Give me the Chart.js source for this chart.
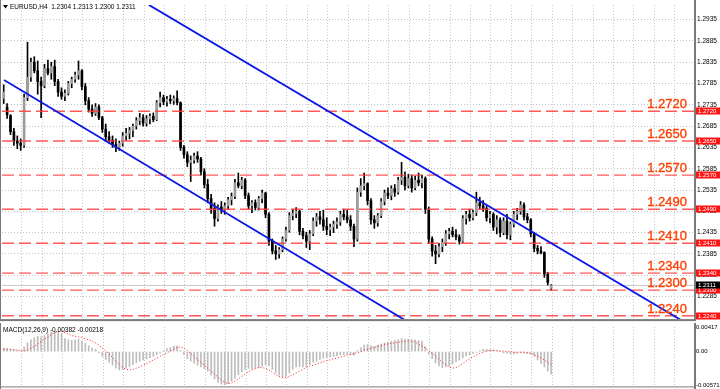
<!DOCTYPE html>
<html>
<head>
<meta charset="utf-8">
<script src="https://cdn.jsdelivr.net/npm/chart.js@4.4.1/dist/chart.umd.min.js"></script>
<style>
  html, body { margin:0; padding:0; background:#fff; }
  #wrap { position:relative; width:720px; height:389px; overflow:hidden; background:#fff; }
  #main { position:absolute; left:0; top:0; }
  #macd { position:absolute; left:0; top:323px; }
</style>
</head>
<body>
<div id="wrap">
  <canvas id="main" width="720" height="324"></canvas>
  <canvas id="macd" width="720" height="66"></canvas>
</div>
<script>
// EURUSD H4 snapshot (one entry per 4h bar)
const openP = [
  1.2750,1.2730,1.2710,1.2672,1.2650,1.2645,1.2640,1.2752,1.2800,1.2835,
  1.2815,1.2790,1.2780,1.2820,1.2810,1.2825,1.2790,1.2765,1.2755,1.2762,
  1.2785,1.2795,1.2805,1.2815,1.2778,1.2745,1.2725,1.2715,1.2730,1.2705,
  1.2678,1.2660,1.2652,1.2642,1.2635,1.2645,1.2662,1.2668,1.2675,1.2685,
  1.2698,1.2705,1.2692,1.2702,1.2708,1.2700,1.2740,1.2752,1.2742,1.2748,
  1.2745,1.2750,1.2740,1.2635,1.2618,1.2600,1.2605,1.2615,1.2608,1.2578,
  1.2548,1.2515,1.2492,1.2468,1.2495,1.2488,1.2498,1.2512,1.2520,1.2552,
  1.2545,1.2558,1.2522,1.2498,1.2505,1.2494,1.2515,1.2528,1.2478,1.2415,
  1.2392,1.2385,1.2395,1.2420,1.2440,1.2475,1.2480,1.2485,1.2438,1.2428,
  1.2415,1.2432,1.2462,1.2472,1.2465,1.2450,1.2442,1.2448,1.2455,1.2460,
  1.2478,1.2472,1.2465,1.2450,1.2420,1.2530,1.2545,1.2550,1.2510,1.2465,
  1.2458,1.2475,1.2508,1.2528,1.2522,1.2538,1.2530,1.2558,1.2565,1.2545,
  1.2562,1.2540,1.2558,1.2552,1.2562,1.2490,1.2420,1.2392,1.2385,1.2402,
  1.2412,1.2432,1.2438,1.2430,1.2425,1.2415,1.2468,1.2478,1.2470,1.2482,
  1.2505,1.2498,1.2492,1.2470,1.2478,1.2448,1.2465,1.2435,1.2462,1.2430,
  1.2455,1.2478,1.2485,1.2500,1.2472,1.2465,1.2432,1.2398,1.2392,1.2388,
  1.2338,1.2304
];
const highP = [
  1.2782,1.2738,1.2712,1.2680,1.2662,1.2655,1.2760,1.2882,1.2845,1.2848,
  1.2838,1.2800,1.2830,1.2840,1.2835,1.2840,1.2795,1.2775,1.2770,1.2790,
  1.2800,1.2812,1.2838,1.2818,1.2785,1.2752,1.2735,1.2738,1.2735,1.2708,
  1.2690,1.2672,1.2662,1.2655,1.2650,1.2670,1.2680,1.2682,1.2690,1.2705,
  1.2715,1.2712,1.2710,1.2714,1.2716,1.2745,1.2765,1.2758,1.2755,1.2758,
  1.2756,1.2768,1.2742,1.2640,1.2625,1.2615,1.2622,1.2625,1.2612,1.2585,
  1.2560,1.2525,1.2505,1.2500,1.2508,1.2505,1.2518,1.2528,1.2560,1.2575,
  1.2565,1.2562,1.2528,1.2510,1.2512,1.2520,1.2535,1.2530,1.2482,1.2420,
  1.2405,1.2400,1.2425,1.2448,1.2482,1.2490,1.2494,1.2488,1.2445,1.2436,
  1.2440,1.2470,1.2480,1.2485,1.2488,1.2470,1.2455,1.2462,1.2470,1.2485,
  1.2490,1.2488,1.2475,1.2455,1.2540,1.2562,1.2575,1.2552,1.2515,1.2475,
  1.2480,1.2515,1.2535,1.2540,1.2545,1.2548,1.2565,1.2600,1.2578,1.2572,
  1.2570,1.2568,1.2575,1.2570,1.2566,1.2495,1.2425,1.2405,1.2410,1.2420,
  1.2440,1.2445,1.2448,1.2442,1.2430,1.2475,1.2485,1.2490,1.2488,1.2530,
  1.2518,1.2510,1.2498,1.2485,1.2482,1.2475,1.2470,1.2470,1.2478,1.2460,
  1.2485,1.2492,1.2508,1.2505,1.2480,1.2468,1.2436,1.2405,1.2402,1.2390,
  1.2342,1.2313
];
const lowP = [
  1.2738,1.2703,1.2665,1.2640,1.2632,1.2628,1.2635,1.2745,1.2790,1.2810,
  1.2760,1.2705,1.2775,1.2805,1.2795,1.2780,1.2755,1.2748,1.2745,1.2758,
  1.2775,1.2788,1.2795,1.2770,1.2735,1.2718,1.2708,1.2710,1.2700,1.2670,
  1.2650,1.2645,1.2635,1.2625,1.2628,1.2638,1.2652,1.2655,1.2660,1.2678,
  1.2688,1.2685,1.2685,1.2690,1.2695,1.2698,1.2730,1.2735,1.2732,1.2738,
  1.2736,1.2735,1.2628,1.2610,1.2590,1.2555,1.2598,1.2600,1.2570,1.2540,
  1.2505,1.2480,1.2450,1.2462,1.2480,1.2478,1.2490,1.2500,1.2515,1.2540,
  1.2538,1.2515,1.2490,1.2482,1.2488,1.2488,1.2505,1.2470,1.2405,1.2385,
  1.2372,1.2375,1.2390,1.2415,1.2436,1.2465,1.2470,1.2430,1.2420,1.2400,
  1.2395,1.2428,1.2450,1.2455,1.2440,1.2430,1.2428,1.2435,1.2445,1.2452,
  1.2465,1.2458,1.2440,1.2402,1.2415,1.2520,1.2535,1.2500,1.2455,1.2445,
  1.2450,1.2470,1.2500,1.2515,1.2512,1.2520,1.2525,1.2548,1.2535,1.2540,
  1.2530,1.2535,1.2545,1.2540,1.2480,1.2410,1.2380,1.2362,1.2378,1.2390,
  1.2405,1.2420,1.2425,1.2418,1.2408,1.2412,1.2455,1.2462,1.2465,1.2475,
  1.2490,1.2485,1.2462,1.2458,1.2440,1.2432,1.2425,1.2430,1.2420,1.2418,
  1.2448,1.2465,1.2478,1.2465,1.2458,1.2425,1.2390,1.2385,1.2385,1.2330,
  1.2312,1.2300
];
const closeP = [
  1.2765,1.2712,1.2672,1.2650,1.2645,1.2640,1.2752,1.2800,1.2835,1.2815,
  1.2790,1.2780,1.2820,1.2810,1.2825,1.2790,1.2765,1.2755,1.2762,1.2785,
  1.2795,1.2805,1.2815,1.2778,1.2745,1.2725,1.2715,1.2730,1.2705,1.2678,
  1.2660,1.2652,1.2642,1.2635,1.2645,1.2662,1.2668,1.2675,1.2685,1.2698,
  1.2705,1.2692,1.2702,1.2708,1.2700,1.2740,1.2752,1.2742,1.2748,1.2745,
  1.2750,1.2740,1.2635,1.2618,1.2600,1.2605,1.2615,1.2608,1.2578,1.2548,
  1.2515,1.2492,1.2468,1.2495,1.2488,1.2498,1.2512,1.2520,1.2552,1.2545,
  1.2558,1.2522,1.2498,1.2505,1.2494,1.2515,1.2528,1.2478,1.2415,1.2392,
  1.2385,1.2395,1.2420,1.2440,1.2475,1.2480,1.2485,1.2438,1.2428,1.2415,
  1.2432,1.2462,1.2472,1.2465,1.2450,1.2442,1.2448,1.2455,1.2460,1.2478,
  1.2472,1.2465,1.2450,1.2420,1.2530,1.2545,1.2550,1.2510,1.2465,1.2458,
  1.2475,1.2508,1.2528,1.2522,1.2538,1.2530,1.2558,1.2565,1.2545,1.2562,
  1.2540,1.2558,1.2552,1.2562,1.2490,1.2420,1.2392,1.2385,1.2402,1.2412,
  1.2432,1.2438,1.2430,1.2425,1.2415,1.2468,1.2478,1.2470,1.2482,1.2505,
  1.2498,1.2492,1.2470,1.2478,1.2448,1.2465,1.2435,1.2462,1.2430,1.2455,
  1.2478,1.2485,1.2500,1.2472,1.2465,1.2432,1.2398,1.2392,1.2388,1.2338,
  1.2318,1.2311
];
// MACD(12,26,9): main (histogram) and signal (dotted)
const macdMain = [
  0.0006,0.0005,0.0004,0.0003,0.0002,0.0002,0.0008,0.0015,0.0020,0.0024,
  0.0026,0.0025,0.0027,0.0030,0.0033,0.0035,0.0034,0.0030,0.0022,0.0020,
  0.0019,0.0020,0.0021,0.0018,0.0014,0.0010,0.0006,0.0004,-0.0002,-0.0008,
  -0.0013,-0.0018,-0.0023,-0.0028,-0.0031,-0.0030,-0.0028,-0.0025,-0.0022,-0.0019,
  -0.0016,-0.0014,-0.0012,-0.0010,-0.0008,-0.0005,-0.0002,0.0002,0.0005,0.0007,
  0.0009,0.0010,0.0002,-0.0005,-0.0012,-0.0016,-0.0020,-0.0023,-0.0026,-0.0029,
  -0.0033,-0.0040,-0.0046,-0.0052,-0.0055,-0.0056,-0.0054,-0.0050,-0.0045,-0.0039,
  -0.0034,-0.0030,-0.0028,-0.0029,-0.0028,-0.0027,-0.0025,-0.0022,-0.0024,-0.0030,
  -0.0036,-0.0040,-0.0043,-0.0042,-0.0036,-0.0030,-0.0026,-0.0025,-0.0026,-0.0025,
  -0.0022,-0.0018,-0.0016,-0.0013,-0.0011,-0.0010,-0.0009,-0.0008,-0.0007,-0.0005,
  -0.0005,-0.0004,-0.0005,-0.0006,0.0002,0.0007,0.0011,0.0012,0.0010,0.0009,
  0.0011,0.0013,0.0015,0.0016,0.0018,0.0019,0.0020,0.0022,0.0021,0.0021,
  0.0020,0.0020,0.0019,0.0018,0.0008,-0.0004,-0.0012,-0.0019,-0.0024,-0.0027,
  -0.0026,-0.0024,-0.0021,-0.0017,-0.0014,-0.0010,-0.0007,-0.0005,-0.0003,-0.0001,
  0.0002,0.0004,0.0004,0.0003,0.0003,0.0001,0.0000,-0.0002,-0.0003,-0.0004,
  -0.0004,-0.0003,-0.0002,-0.0002,-0.0003,-0.0004,-0.0008,-0.0014,-0.0020,-0.0026,
  -0.0033,-0.0038
];
const macdSignal = [
  0.0004,0.0004,0.0004,0.0003,0.0003,0.0002,0.0001,0.0003,0.0006,0.0009,
  0.0013,0.0017,0.0021,0.0025,0.0029,0.0032,0.0034,0.0034,0.0032,0.0030,
  0.0027,0.0026,0.0025,0.0024,0.0022,0.0020,0.0018,0.0015,0.0011,0.0006,
  0.0001,-0.0004,-0.0010,-0.0016,-0.0022,-0.0027,-0.0030,-0.0031,-0.0030,-0.0028,
  -0.0026,-0.0023,-0.0020,-0.0017,-0.0014,-0.0011,-0.0008,-0.0005,-0.0002,0.0001,
  0.0004,0.0007,0.0008,0.0006,0.0002,-0.0003,-0.0008,-0.0013,-0.0018,-0.0023,
  -0.0028,-0.0033,-0.0038,-0.0043,-0.0048,-0.0052,-0.0054,-0.0053,-0.0050,-0.0046,
  -0.0042,-0.0038,-0.0034,-0.0031,-0.0029,-0.0027,-0.0027,-0.0028,-0.0031,-0.0035,
  -0.0039,-0.0042,-0.0044,-0.0044,-0.0042,-0.0039,-0.0036,-0.0033,-0.0030,-0.0027,
  -0.0025,-0.0023,-0.0021,-0.0019,-0.0017,-0.0015,-0.0014,-0.0012,-0.0011,-0.0009,
  -0.0008,-0.0006,-0.0005,-0.0003,-0.0002,0.0000,0.0002,0.0004,0.0006,0.0007,
  0.0009,0.0010,0.0012,0.0013,0.0014,0.0015,0.0016,0.0017,0.0018,0.0018,
  0.0018,0.0016,0.0013,0.0010,0.0006,0.0002,-0.0003,-0.0008,-0.0013,-0.0018,
  -0.0022,-0.0026,-0.0028,-0.0027,-0.0024,-0.0020,-0.0016,-0.0012,-0.0009,-0.0006,
  -0.0003,-0.0001,0.0001,0.0002,0.0002,0.0002,0.0001,0.0001,0.0000,0.0000,
  -0.0001,-0.0001,-0.0001,-0.0001,-0.0002,-0.0003,-0.0005,-0.0008,-0.0011,-0.0014,
  -0.0018,-0.0022
];

// horizontal levels, channel anchors [barIndex, price], axis ticks
const levels = [1.2720, 1.2650, 1.2570, 1.2490, 1.2410, 1.2340, 1.2300, 1.2240];
const lastPrice = 1.2311;
const upperChannel = [[42.7, 1.29696], [199.2, 1.22297]];
const lowerChannel = [[0.1, 1.27933], [118.0, 1.22297]];
const priceTicks = [1.2935,1.2885,1.2835,1.2785,1.2735,1.2685,1.2635,1.2585,1.2535,1.2485,1.2435,1.2385,1.2335,1.2285];
const macdTicks = [0.00417, 0, -0.00571];
const titleText = 'EURUSD,H4  1.2304 1.2313 1.2300 1.2311';
const macdText = 'MACD(12,26,9) -0.00382 -0.00218';

const X_MIN = -0.5, X_MAX = 203;
const P_MAX = 1.29696, P_MIN = 1.22320;
const GRID_BARS = [];
for (let v = 5.3; v < X_MAX; v += 6) GRID_BARS.push(v);

const GRID = '#c4c4c4';
const FRAME = '#7a7a7a';
const AXIS_FONT = { family: 'Liberation Sans', size: 6.5 };

function xAxis(){
  return {
    type: 'linear', min: X_MIN, max: X_MAX, offset: false,
    afterBuildTicks: s => { s.ticks = GRID_BARS.map(v => ({ value: v })); },
    afterFit: s => { s.height = 0; },
    ticks: { display: false },
    grid: { color: GRID, lineWidth: 1, drawTicks: false, offset: false },
    border: { display: false, dash: [1, 2] }
  };
}

const candleIdx = closeP.map((_, i) => i);

// ---------- main price pane ----------
const mainDecor = {
  id: 'mainDecor',
  afterDraw(chart){
    const ctx = chart.ctx, ca = chart.chartArea, y = chart.scales.y;
    ctx.save();
    // frame
    ctx.fillStyle = FRAME;
    ctx.fillRect(0, 0, 1, ca.bottom);
    ctx.fillRect(ca.right, 0, 2, ca.bottom + 2);
    ctx.fillRect(0, ca.bottom, ca.right, 2);
    // level captions + axis tags
    levels.forEach(lv => {
      const py = y.getPixelForValue(lv);
      ctx.font = '13px "Liberation Sans"';
      ctx.fillStyle = '#ff4000';
      ctx.strokeStyle = '#ff4000'; ctx.lineWidth = 0.35;
      ctx.textAlign = 'right'; ctx.textBaseline = 'alphabetic';
      ctx.fillText(lv.toFixed(4), 687, py - 3);
      ctx.strokeText(lv.toFixed(4), 687, py - 3);
      ctx.fillStyle = '#ff1414';
      ctx.fillRect(ca.right + 2, Math.round(py) - 3.5, 24, 7);
      ctx.fillStyle = '#fff';
      ctx.font = '6px "Liberation Sans"';
      ctx.textAlign = 'left'; ctx.textBaseline = 'middle';
      ctx.fillText(lv.toFixed(4), ca.right + 4, Math.round(py));
    });
    const lp = y.getPixelForValue(lastPrice);
    ctx.fillStyle = '#000';
    ctx.fillRect(ca.right + 2, Math.round(lp) - 3.5, 24, 7);
    ctx.fillStyle = '#fff';
    ctx.fillText(lastPrice.toFixed(4), ca.right + 4, Math.round(lp));
    // title
    ctx.fillStyle = '#000';
    ctx.beginPath(); ctx.moveTo(3, 5); ctx.lineTo(8, 5); ctx.lineTo(5.5, 8.5); ctx.closePath(); ctx.fill();
    ctx.font = '6.5px "Liberation Sans"';
    ctx.textAlign = 'left'; ctx.textBaseline = 'middle';
    ctx.fillText(titleText, 10, 7);
    ctx.restore();
  }
};

const lineDs = (pts, color, width, dash, order) => ({
  type: 'line', data: pts.map(p => ({ x: p[0], y: p[1] })),
  borderColor: color, borderWidth: width, borderDash: dash || [],
  pointRadius: 0, fill: false, tension: 0, order: order
});

const mainDatasets = [
  { type: 'bar', data: candleIdx.map(i => ({ x: i, y: [lowP[i], highP[i]] })),
    backgroundColor: '#000', barThickness: 1, grouped: false, order: 5 },
  { type: 'bar', data: candleIdx.map(i => ({ x: i, y: [openP[i], closeP[i]] })),
    backgroundColor: candleIdx.map(i => closeP[i] >= openP[i] ? '#9c9c9c' : '#000'),
    barThickness: 2, grouped: false, order: 4 },
  lineDs([[X_MIN, lastPrice], [X_MAX, lastPrice]], '#c8c8c8', 1, null, 6),
  ...levels.map(lv => lineDs([[X_MIN, lv], [X_MAX, lv]], 'rgba(255,60,60,0.85)', 1.4, [12, 5], 2)),
  lineDs(upperChannel, '#0a18e8', 1.8, null, 1),
  lineDs(lowerChannel, '#0a18e8', 1.8, null, 1)
];

new Chart(document.getElementById('main'), {
  type: 'bar',
  data: { datasets: mainDatasets },
  options: {
    responsive: false, animation: false, events: [],
    layout: { padding: { left: 2, top: 2, right: 0, bottom: 2 } },
    plugins: { legend: { display: false }, tooltip: { enabled: false } },
    scales: {
      x: xAxis(),
      y: {
        type: 'linear', position: 'right', min: P_MIN, max: P_MAX,
        afterBuildTicks: s => { s.ticks = priceTicks.map(v => ({ value: v })); },
        afterFit: s => { s.width = 26; },
        ticks: { color: '#000', font: AXIS_FONT, padding: 1, callback: v => v.toFixed(4) },
        grid: { color: GRID, tickColor: '#555', tickLength: 2, tickBorderDash: [] },
        border: { display: false, dash: [1, 2] }
      }
    }
  },
  plugins: [mainDecor]
});

// ---------- MACD pane ----------
const macdDecor = {
  id: 'macdDecor',
  afterDraw(chart){
    const ctx = chart.ctx, ca = chart.chartArea;
    ctx.save();
    ctx.fillStyle = FRAME;
    ctx.fillRect(0, 0, 1, 66);
    ctx.fillRect(ca.right, 0, 2, 66);
    ctx.fillRect(0, ca.bottom + 1, ca.right, 1);
    ctx.fillStyle = '#000';
    ctx.font = '6.5px "Liberation Sans"';
    ctx.textAlign = 'left'; ctx.textBaseline = 'middle';
    ctx.fillText(macdText, 3, 7);
    ctx.restore();
  }
};

new Chart(document.getElementById('macd'), {
  type: 'bar',
  data: { datasets: [
    { type: 'bar', data: candleIdx.map(i => ({ x: i, y: macdMain[i] })),
      backgroundColor: '#bdbdbd', barThickness: 1, grouped: false, order: 2 },
    { type: 'line', data: candleIdx.map(i => ({ x: i, y: macdSignal[i] })),
      borderColor: '#ff2020', borderWidth: 1, borderDash: [1, 2],
      pointRadius: 0, fill: false, tension: 0, order: 1 }
  ] },
  options: {
    responsive: false, animation: false, events: [],
    layout: { padding: { left: 2, top: 4, right: 0, bottom: 2 } },
    plugins: { legend: { display: false }, tooltip: { enabled: false } },
    scales: {
      x: xAxis(),
      y: {
        type: 'linear', position: 'right', min: macdTicks[2], max: macdTicks[0],
        afterBuildTicks: s => { s.ticks = macdTicks.map(v => ({ value: v })); },
        afterFit: s => { s.width = 26; },
        ticks: { color: '#000', font: { family: 'Liberation Sans', size: 6 }, padding: 0, autoSkip: false,
                 callback: v => v === 0 ? '0.00' : v.toFixed(5) },
        grid: { drawOnChartArea: false, tickColor: '#555', tickLength: 2 },
        border: { display: false }
      }
    }
  },
  plugins: [macdDecor]
});
</script>
</body>
</html>
